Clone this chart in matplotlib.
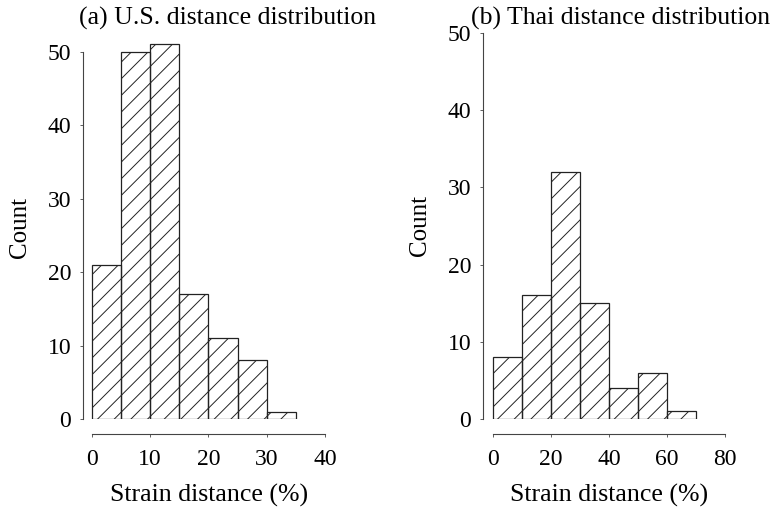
import numpy as np
from matplotlib import pyplot as plt

# histogram data
us_edges = [0, 5, 10, 15, 20, 25, 30]
us_counts = [21, 50, 51, 17, 11, 8, 1]
thai_edges = [0, 10, 20, 30, 40, 50, 60]
thai_counts = [8, 16, 32, 15, 4, 6, 1]

us_xticks = [0, 10, 20, 30, 40]
thai_xticks = [0, 20, 40, 60, 80]
yticks = [0, 10, 20, 30, 40, 50]

plt.rcParams['font.family'] = ['Liberation Serif', 'DejaVu Serif']
plt.rcParams['hatch.linewidth'] = 0.7
plt.rcParams['hatch.color'] = '#222222'

DPI = 100
fig = plt.figure(figsize=(783 / DPI, 508 / DPI), dpi=DPI)

ax1 = fig.add_axes([83 / 783, 89 / 508, 242 / 783, 382 / 508])
ax2 = fig.add_axes([483 / 783, 89 / 508, 242 / 783, 386 / 508])


def style(ax, edges, counts, width, xticks, xlim, ylim):
    ax.bar(edges, counts, width=width, align='edge', fill=False,
           hatch='//', edgecolor='#222222', linewidth=0.9)
    ax.set_xlim(*xlim)
    ax.set_ylim(*ylim)
    for s in ['top', 'right']:
        ax.spines[s].set_visible(False)
    ax.spines['bottom'].set_position(('outward', 11))
    ax.spines['bottom'].set_bounds(xticks[0], xticks[-1])
    ax.spines['left'].set_bounds(0, 50)
    for s in ['bottom', 'left']:
        ax.spines[s].set_linewidth(0.8)
        ax.spines[s].set_color('#444444')
    ax.set_xticks(xticks)
    ax.set_yticks(yticks)
    ax.tick_params(direction='out', length=2.5, width=0.6, color='#444444',
                   labelsize=17)
    ax.tick_params(axis='x', pad=8)
    ax.tick_params(axis='y', pad=6)
    ax.set_ylabel('Count', fontsize=18, labelpad=12)
    ax.set_xlabel('Strain distance (%)', fontsize=18.6, labelpad=10)
    ax.xaxis.label.set_x(0.52)


style(ax1, us_edges, us_counts, 5, us_xticks, (-1.5, 40), (0, 52))
style(ax2, thai_edges, thai_counts, 10, thai_xticks, (-3.45, 80), (0, 50))

fig.text(228 / 783, 1 - 18 / 508, '(a) U.S. distance distribution',
         ha='center', va='center', fontsize=18.5)
fig.text(621 / 783, 1 - 18 / 508, '(b) Thai distance distribution',
         ha='center', va='center', fontsize=18.5)

fig.savefig('out.png', dpi=DPI)
